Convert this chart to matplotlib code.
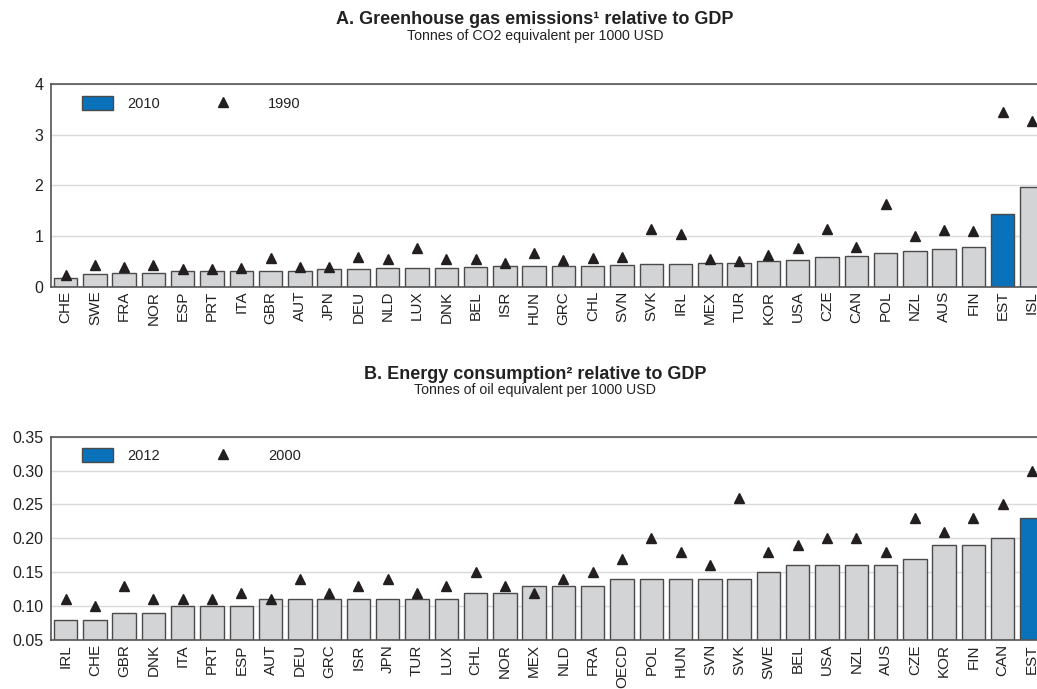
import matplotlib
matplotlib.use("Agg")
import matplotlib.pyplot as plt
from matplotlib.patches import Patch
from matplotlib.lines import Line2D

plt.rcParams['font.family'] = ['Liberation Sans', 'DejaVu Sans']

# Panel A: greenhouse gas emissions per unit of GDP
ghg_countries = ["CHE", "SWE", "FRA", "NOR", "ESP", "PRT", "ITA", "GBR", "AUT", "JPN",
                 "DEU", "NLD", "LUX", "DNK", "BEL", "ISR", "HUN", "GRC", "CHL", "SVN",
                 "SVK", "IRL", "MEX", "TUR", "KOR", "USA", "CZE", "CAN", "POL", "NZL",
                 "AUS", "FIN", "EST", "ISL"]
ghg_2010 = [0.18, 0.26, 0.28, 0.28, 0.30, 0.31, 0.31, 0.31, 0.31, 0.34,
            0.355, 0.375, 0.375, 0.375, 0.39, 0.40, 0.40, 0.40, 0.41, 0.43,
            0.44, 0.44, 0.46, 0.47, 0.51, 0.52, 0.59, 0.60, 0.67, 0.70,
            0.74, 0.78, 1.44, 1.97]
ghg_1990 = [0.24, 0.43, 0.38, 0.43, 0.355, 0.34, 0.37, 0.57, 0.38, 0.39,
            0.59, 0.55, 0.76, 0.55, 0.55, 0.47, 0.66, 0.53, 0.57, 0.59,
            1.13, 1.04, 0.55, 0.51, 0.62, 0.76, 1.13, 0.79, 1.64, 1.01,
            1.12, 1.09, 3.45, 3.26]

# Panel B: energy consumption per unit of GDP
en_countries = ["IRL", "CHE", "GBR", "DNK", "ITA", "PRT", "ESP", "AUT", "DEU", "GRC",
                "ISR", "JPN", "TUR", "LUX", "CHL", "NOR", "MEX", "NLD", "FRA", "OECD",
                "POL", "HUN", "SVN", "SVK", "SWE", "BEL", "USA", "NZL", "AUS", "CZE",
                "KOR", "FIN", "CAN", "EST"]
en_2012 = [0.08, 0.08, 0.09, 0.09, 0.10, 0.10, 0.10, 0.11, 0.11, 0.11,
           0.11, 0.11, 0.11, 0.11, 0.12, 0.12, 0.13, 0.13, 0.13, 0.14,
           0.14, 0.14, 0.14, 0.14, 0.15, 0.16, 0.16, 0.16, 0.16, 0.17,
           0.19, 0.19, 0.20, 0.23]
en_2000 = [0.11, 0.10, 0.13, 0.11, 0.11, 0.11, 0.12, 0.11, 0.14, 0.12,
           0.13, 0.14, 0.12, 0.13, 0.15, 0.13, 0.12, 0.14, 0.15, 0.17,
           0.20, 0.18, 0.16, 0.26, 0.18, 0.19, 0.20, 0.20, 0.18, 0.23,
           0.21, 0.23, 0.25, 0.30]

GREY = "#d3d4d6"
BLUE = "#0a72ba"
EDGE = "#4a4a4a"
MARK = "#231f20"
GRID = "#dadada"
TXT = "#222222"

W, H = 1037, 689
fig = plt.figure(figsize=(W / 100, H / 100), dpi=100)

left = 51 / W
width = (W - 51) / W
ax1 = fig.add_axes([left, 1 - 286.7 / H, width, (286.7 - 84) / H])
ax2 = fig.add_axes([left, 1 - 640 / H, width, (640 - 436.7) / H])


def draw_panel(ax, cats, bars, marks, highlight, ylim, yticks, yfmt, bar_label, mark_label):
    x = list(range(len(cats)))
    colors = [BLUE if c == highlight else GREY for c in cats]
    ax.bar(x, [b - ylim[0] for b in bars], bottom=ylim[0], width=0.8,
           color=colors, edgecolor=EDGE, linewidth=1.0, zorder=2)
    ax.plot(x, marks, linestyle="none", marker="^", markersize=7.5,
            color=MARK, zorder=3, clip_on=False)
    ax.set_xlim(-0.5, 33.17)
    ax.set_ylim(*ylim)
    ax.set_yticks(yticks)
    ax.set_yticklabels([yfmt.format(t) for t in yticks], fontsize=11.5, color=TXT)
    ax.set_xticks(x)
    ax.set_xticklabels(cats, rotation=90, fontsize=11, color=TXT)
    ax.tick_params(axis="both", length=0)
    ax.tick_params(axis="y", pad=5.5)
    ax.tick_params(axis="x", pad=3)
    ax.yaxis.grid(True, color=GRID, linewidth=1.0, zorder=0)
    ax.set_axisbelow(True)
    for s in ("top", "left", "bottom"):
        ax.spines[s].set_color("#555555")
        ax.spines[s].set_linewidth(1.2)
    ax.spines["right"].set_visible(False)

    # legend: two single-entry legends so each key sits at its own spot
    fs = 10.5
    leg1 = ax.legend([Patch(facecolor=BLUE, edgecolor=EDGE, linewidth=1.0)], [bar_label],
                     loc="center left", bbox_to_anchor=(0.0314, 0.906), frameon=False,
                     fontsize=fs, handlelength=2.13, handleheight=1.12,
                     handletextpad=0.96, borderpad=0, borderaxespad=0)
    for t in leg1.get_texts():
        t.set_color(TXT)
    ax.add_artist(leg1)
    leg2 = ax.legend([Line2D([], [], linestyle="none", marker="^", markersize=7.5, color=MARK)],
                     [mark_label], loc="center left", bbox_to_anchor=(0.143, 0.906),
                     frameon=False, fontsize=fs, handlelength=4.25, handleheight=1.12,
                     handletextpad=0.96, borderpad=0, borderaxespad=0)
    for t in leg2.get_texts():
        t.set_color(TXT)


draw_panel(ax1, ghg_countries, ghg_2010, ghg_1990, "EST", (0, 4), [0, 1, 2, 3, 4],
           "{:.0f}", "2010", "1990")
draw_panel(ax2, en_countries, en_2012, en_2000, "EST", (0.05, 0.35),
           [0.05, 0.10, 0.15, 0.20, 0.25, 0.30, 0.35], "{:.2f}", "2012", "2000")

cx = 535 / W
fig.text(cx, 1 - 23.5 / H, "A. Greenhouse gas emissions\u00b9 relative to GDP",
         ha="center", va="baseline", fontsize=13, fontweight="bold", color=TXT)
fig.text(cx, 1 - 40 / H, "Tonnes of CO2 equivalent per 1000 USD",
         ha="center", va="baseline", fontsize=10.2, color=TXT)
fig.text(cx, 1 - 378.5 / H, "B. Energy consumption\u00b2 relative to GDP",
         ha="center", va="baseline", fontsize=13, fontweight="bold", color=TXT)
fig.text(cx, 1 - 394 / H, "Tonnes of oil equivalent per 1000 USD",
         ha="center", va="baseline", fontsize=10.2, color=TXT)

fig.savefig("out.png", dpi=100)
